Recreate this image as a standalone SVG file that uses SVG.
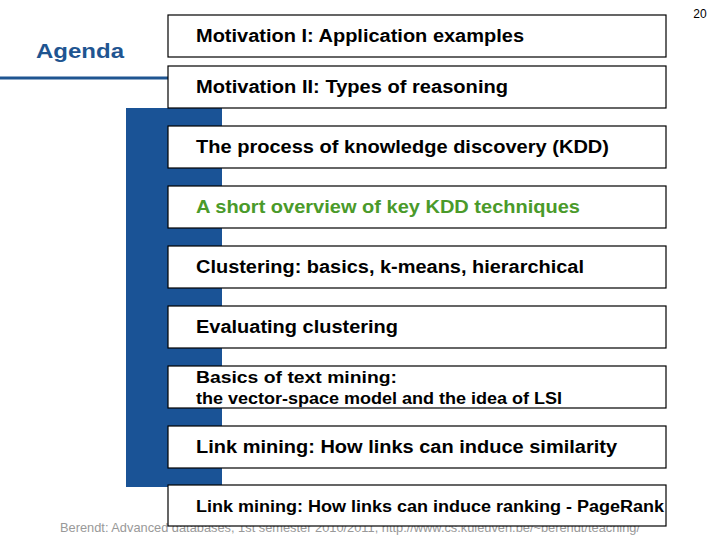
<svg xmlns="http://www.w3.org/2000/svg" width="720" height="540" viewBox="0 0 720 540">
<style>
.b{fill:#fff;stroke:#000;stroke-width:1.2}
.t{font-family:"Liberation Sans",Arial,sans-serif;font-size:18px;font-weight:bold;fill:#000}
.s{font-size:16px}
</style>
<rect width="720" height="540" fill="#fff"/>
<text x="700" y="18" font-family="Liberation Sans,Arial,sans-serif" font-size="12" text-anchor="middle">20</text>
<text x="36" y="58" font-family="Liberation Sans,Arial,sans-serif" font-size="21" font-weight="bold" fill="#1f5591" textLength="88" lengthAdjust="spacingAndGlyphs">Agenda</text>
<line x1="0" y1="78" x2="168" y2="78" stroke="#1f5591" stroke-width="3"/>
<rect x="126" y="108" width="96" height="379" fill="#1a5396"/>
<text x="350" y="532" font-family="Liberation Sans,Arial,sans-serif" font-size="13" fill="#999" text-anchor="middle" textLength="580" lengthAdjust="spacingAndGlyphs">Berendt: Advanced databases, 1st semester 2010/2011, http://www.cs.kuleuven.be/~berendt/teaching/</text>
<g id="n1"><rect class="b" x="168" y="15" width="498" height="42"/><text class="t" x="196" y="42" textLength="328" lengthAdjust="spacingAndGlyphs">Motivation I: Application examples</text></g>
<g id="n2"><rect class="b" x="168" y="66" width="498" height="42"/><text class="t" x="196" y="93" textLength="312" lengthAdjust="spacingAndGlyphs">Motivation II: Types of reasoning</text></g>
<g id="n3"><rect class="b" x="168" y="126" width="498" height="42"/><text class="t" x="196" y="153" textLength="413" lengthAdjust="spacingAndGlyphs">The process of knowledge discovery (KDD)</text></g>
<g id="n4"><rect class="b" x="168" y="186" width="498" height="42"/><text class="t" x="196" y="213" style="fill:#4a9a2a" textLength="384" lengthAdjust="spacingAndGlyphs">A short overview of key KDD techniques</text></g>
<g id="n5"><rect class="b" x="168" y="246" width="498" height="42"/><text class="t" x="196" y="273" textLength="388" lengthAdjust="spacingAndGlyphs">Clustering: basics, k-means, hierarchical</text></g>
<g id="n6"><rect class="b" x="168" y="306" width="498" height="42"/><text class="t" x="196" y="333" textLength="202" lengthAdjust="spacingAndGlyphs">Evaluating clustering</text></g>
<g id="n7"><rect class="b" x="168" y="366" width="498" height="42"/><text class="t s" x="196" y="383" textLength="201" lengthAdjust="spacingAndGlyphs">Basics of text mining:</text><text class="t s" x="196" y="404" textLength="366" lengthAdjust="spacingAndGlyphs">the vector-space model and the idea of LSI</text></g>
<g id="n8"><rect class="b" x="168" y="426" width="498" height="42"/><text class="t" x="196" y="453" textLength="421" lengthAdjust="spacingAndGlyphs">Link mining: How links can induce similarity</text></g>
<g id="n9"><rect class="b" x="168" y="485" width="498" height="41"/><text class="t s" x="196" y="512" textLength="468" lengthAdjust="spacingAndGlyphs">Link mining: How links can induce ranking - PageRank</text></g>
<g id="connectors"/>
</svg>
